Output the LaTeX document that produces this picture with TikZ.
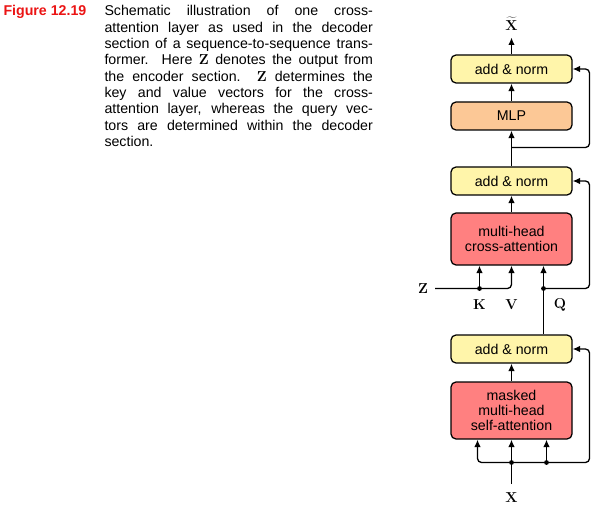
\documentclass[tikz,border=0pt]{standalone}
\usepackage[no-math]{fontspec}
\setmainfont{Liberation Sans}
\usetikzlibrary{arrows.meta}
\definecolor{yel}{RGB}{255,245,170}
\definecolor{peach}{RGB}{252,200,150}
\definecolor{salmon}{RGB}{255,128,128}
\definecolor{figred}{RGB}{235,20,20}
\begin{document}
\begin{tikzpicture}[x=1pt,y=-1pt,
  blk/.style={draw, line width=1.25pt, rounded corners=5pt, minimum width=121pt, align=center,
    font=\fontsize{14.2}{14.7}\selectfont, inner sep=0pt},
  ln/.style={line width=1.3pt},
  conn/.style={line width=1.3pt, -{Latex[length=7.5pt,width=6.5pt]}},
  dot/.style={fill=black},
  lab/.style={font=\fontsize{14.5}{16}\selectfont, inner sep=0pt},
  captxt/.style={anchor=base west, inner sep=0pt, font=\fontsize{14.2}{16.3}\selectfont}]
\useasboundingbox (0,0) rectangle (597,513);
% caption
\node[captxt, text=figred, font=\fontsize{14.2}{16.3}\selectfont\bfseries] (fig) at (3.3,16) {Figure 12.19};
\node[captxt] (c1) at (104.3,16.0) {\makebox[268.4pt][s]{Schematic illustration of one cross-}};
\node[captxt] (c2) at (104.3,32.3) {\makebox[268.4pt][s]{attention layer as used in the decoder}};
\node[captxt] (c3) at (104.3,48.6) {\makebox[268.4pt][s]{section of a sequence-to-sequence trans-}};
\node[captxt] (c4) at (104.3,64.9) {\makebox[268.4pt][s]{former.\ \ Here $\mathbf{Z}$ denotes the output from}};
\node[captxt] (c5) at (104.3,81.2) {\makebox[268.4pt][s]{the encoder section.\ \ $\mathbf{Z}$ determines the}};
\node[captxt] (c6) at (104.3,97.5) {\makebox[268.4pt][s]{key and value vectors for the cross-}};
\node[captxt] (c7) at (104.3,113.8) {\makebox[268.4pt][s]{attention layer, whereas the query vec-}};
\node[captxt] (c8) at (104.3,130.1) {\makebox[268.4pt][s]{tors are determined within the decoder}};
\node[captxt] (c9) at (104.3,146.4) {section.};
% blocks
\node[blk, fill=yel, minimum height=28pt] (an1) at (511.5,69) {add \& norm};
\node[blk, fill=peach, minimum height=28pt] (mlp) at (511.5,116) {MLP};
\node[blk, fill=yel, minimum height=28pt] (an2) at (511.5,181) {add \& norm};
\node[blk, fill=salmon, minimum height=52pt] (ca) at (511.5,239) {multi-head\\cross-attention};
\node[blk, fill=yel, minimum height=28pt] (an3) at (511.5,349) {add \& norm};
\node[blk, fill=salmon, minimum height=57pt] (ms) at (511.5,410.5) {masked\\multi-head\\self-attention};
% labels
\node[lab] (xt) at (511.5,23.5) {$\widetilde{\mathbf{X}}$};
\node[lab] (xb) at (511.5,497.5) {$\mathbf{X}$};
\node[lab] (zl) at (423,289) {$\mathbf{Z}$};
\node[lab] (kl) at (479.5,304.5) {$\mathbf{K}$};
\node[lab] (vl) at (511.5,304.5) {$\mathbf{V}$};
\node[lab] (ql) at (560,304.5) {$\mathbf{Q}$};
% coordinates
\coordinate (xtop) at (511.5,37.5);
\coordinate (r1) at (511.5,147.5);
\coordinate (zs) at (435,288.5);
\coordinate (kd) at (479.5,288.5);
\coordinate (vx) at (511.5,288.5);
\coordinate (qd) at (543.5,288.5);
\coordinate (xin) at (511.5,484);
\coordinate (j1) at (511.5,462.5);
\coordinate (j2) at (546.5,462.5);
\coordinate (jl) at (477.5,462.5);
\coordinate (rx) at (589.5,0);
% connectors
\draw[conn] (an1.north) -- (xtop);
\draw[conn] (mlp.north) -- (an1.south);
\draw[conn] (an2.north) -- (mlp.south);
\draw[conn, rounded corners=4pt] (r1) -- (rx |- r1) |- (an1.east);
\draw[conn] (ca.north) -- (an2.south);
\draw[conn, rounded corners=4pt] (zs) -| (vx |- ca.south);
\draw[conn] (kd) -- (kd |- ca.south);
\draw[conn] (an3.north -| qd) -- (qd |- ca.south);
\draw[conn, rounded corners=4pt] (qd) -- (rx |- qd) |- (an2.east);
\draw[conn] (ms.north) -- (an3.south);
\draw[ln] (xin) -- (j1);
\draw[conn] (j1) -- (ms.south);
\draw[conn, rounded corners=4pt] (j1) -| (jl |- ms.south);
\draw[conn] (j2) -- (j2 |- ms.south);
\draw[conn, rounded corners=4pt] (j1) -- (rx |- j1) |- (an3.east);
\fill[dot] (kd) circle (2.4pt);
\fill[dot] (qd) circle (2.4pt);
\fill[dot] (j1) circle (2.4pt);
\fill[dot] (j2) circle (2.4pt);
\end{tikzpicture}
\end{document}
